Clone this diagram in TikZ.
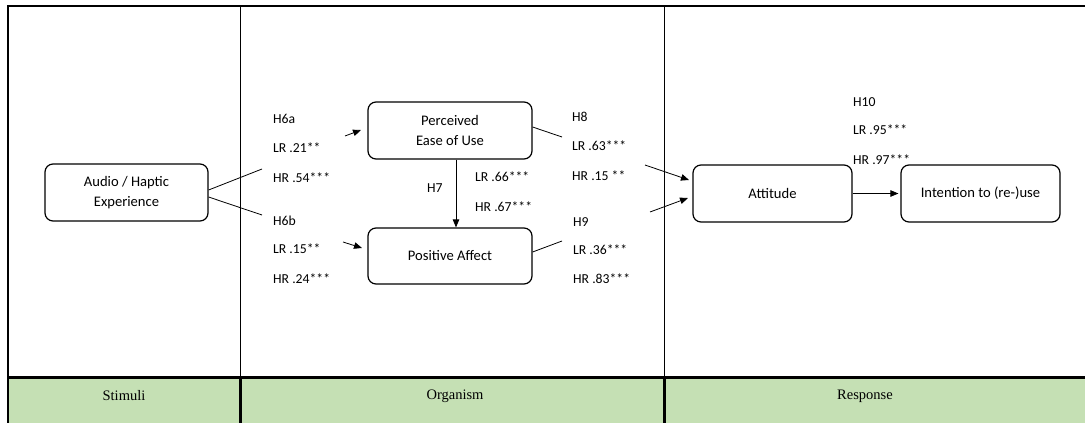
\documentclass[tikz,border=0pt]{standalone}
\usepackage{fontspec}
\setmainfont{Carlito}
\newfontfamily\bandfont{Liberation Serif}
\usetikzlibrary{arrows.meta}
\definecolor{bandgreen}{HTML}{C5E0B4}
\tikzset{
  box/.style={draw, line width=1.2pt, rounded corners=8pt, align=center,
    font=\fontsize{14.6}{20}\selectfont, inner sep=0pt},
  lab/.style={anchor=west, inner sep=0pt, font=\fontsize{13.7}{16}\selectfont},
  bandlab/.style={inner sep=0pt, font=\bandfont\fontsize{14.5}{16}\selectfont},
  link/.style={line width=0.8pt},
  arr/.style={line width=0.8pt, -{Triangle[length=8pt,width=6.5pt]}},
  frame/.style={line width=1.5pt},
}
\begin{document}
\begin{tikzpicture}[x=1pt, y=-1pt]
\useasboundingbox (0,0) rectangle (1085,423);

% green band holding the three stage names
\fill[bandgreen] (8,378) rectangle (1085,423);

% table frame
\draw[frame] (8,423) -- (8,6) -- (1085,6);
\draw[frame] (240.5,6) -- (240.5,423);
\draw[frame] (664.5,6) -- (664.5,423);
\draw[line width=2.2pt] (8,377.5) -- (1085,377.5);
\draw[line width=2.2pt] (8,378) -- (8,423);
\draw[line width=2.2pt] (240.5,378) -- (240.5,423);
\draw[line width=2.2pt] (664.5,378) -- (664.5,423);

\node[bandlab] (stim) at (124,396) {Stimuli};
\node[bandlab] (org) at (455,396) {Organism};
\node[bandlab] (resp) at (865,396) {Response};

% constructs
\node[box, minimum width=163pt, minimum height=57pt] (audio) at (126.5,192.5)
  {Audio / Haptic\\Experience};
\node[box, minimum width=164pt, minimum height=57pt] (peou) at (450,130.5)
  {Perceived\\Ease of Use};
\node[box, minimum width=164pt, minimum height=56pt] (pa) at (450,256)
  {Positive Affect};
\node[box, minimum width=159pt, minimum height=57pt] (att) at (772.5,193.5)
  {Attitude};
\node[box, minimum width=159pt, minimum height=57pt] (int) at (980.5,193.5)
  {Intention to (re-)use};

% free ends of the broken paths (gaps hold the coefficients)
\coordinate (h6a1) at (262,169);
\coordinate (h6a2) at (345,136);
\coordinate (h6a3) at (361,130);
\coordinate (h6b1) at (262,215);
\coordinate (h6b2) at (343,242);
\coordinate (h6b3) at (362,248);
\coordinate (h8a) at (562,137);
\coordinate (h8b) at (645,165);
\coordinate (h8c) at (689,180);
\coordinate (h9a) at (562,241);
\coordinate (h9b) at (650,212);
\coordinate (h9c) at (688,198);

% H6a / H6b
\draw[link] ([yshift=2.5pt]audio.east) -- (h6a1);
\draw[arr] (h6a2) -- (h6a3);
\draw[link] ([yshift=-4.5pt]audio.east) -- (h6b1);
\draw[arr] (h6b2) -- (h6b3);

% H7
\draw[arr] ([xshift=6pt]peou.south) -- ([xshift=6pt]pa.north);

% H8 / H9
\draw[link] ([yshift=3.5pt]peou.east) -- (h8a);
\draw[arr] (h8b) -- (h8c);
\draw[link] ([yshift=4pt]pa.east) -- (h9a);
\draw[arr] (h9b) -- (h9c);

% H10
\draw[arr, shorten >=2pt] (att.east) -- (int.west);

% path coefficients
\node[lab] (l6a) at (273,119) {H6a};
\node[lab] (l6alr) at (273,148) {LR .21**};
\node[lab] (l6ahr) at (273,178) {HR .54***};
\node[lab] (l6b) at (273,221) {H6b};
\node[lab] (l6blr) at (273,249) {LR .15**};
\node[lab] (l6bhr) at (273,279) {HR .24***};

\node[lab] (l7) at (427,188) {H7};
\node[lab] (l7lr) at (475,177) {LR .66***};
\node[lab] (l7hr) at (475,207) {HR .67***};

\node[lab] (l8) at (572,117) {H8};
\node[lab] (l8lr) at (572,146) {LR .63***};
\node[lab] (l8hr) at (572,176) {HR .15 **};
\node[lab] (l9) at (573,222) {H9};
\node[lab] (l9lr) at (573,250) {LR .36***};
\node[lab] (l9hr) at (573,279) {HR .83***};

\node[lab] (l10) at (853,102) {H10};
\node[lab] (l10lr) at (853,130) {LR .95***};
\node[lab] (l10hr) at (853,160) {HR .97***};
\end{tikzpicture}
\end{document}
